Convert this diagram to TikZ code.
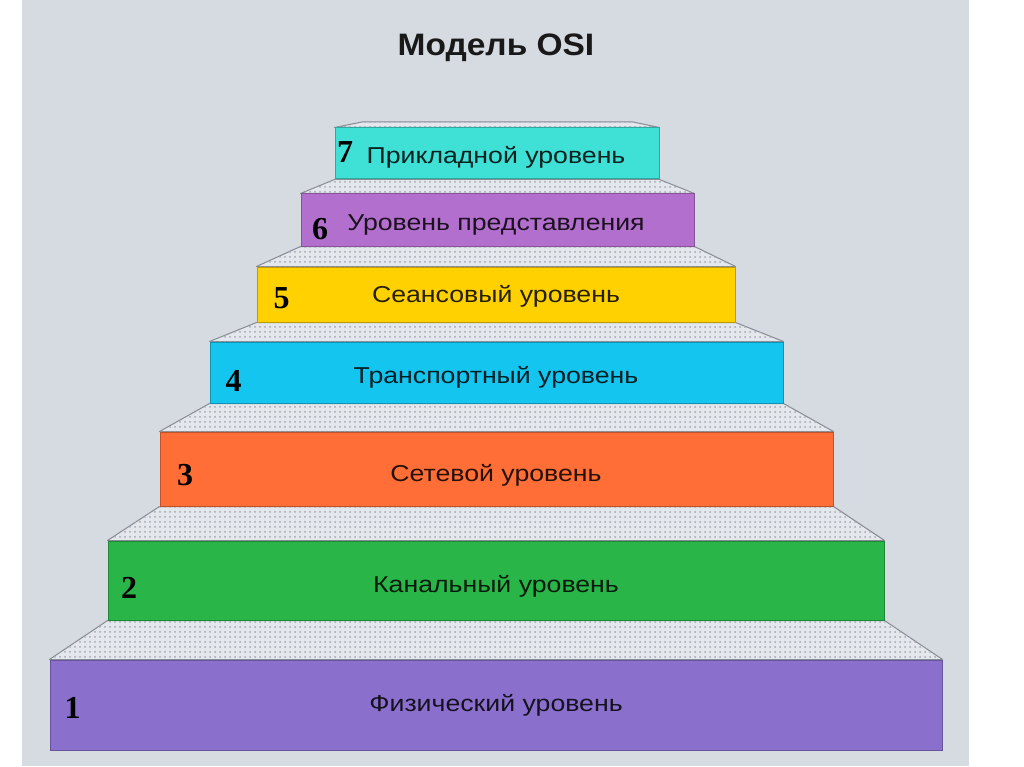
\documentclass[tikz,border=0pt]{standalone}
\usepackage{fontspec}
\setmainfont{Liberation Sans}
\newfontfamily\numfont{Liberation Serif}
\newfontfamily\labelfont{Liberation Sans}[FakeStretch=1.16]
\newfontfamily\titlefont{Liberation Sans}[FakeStretch=1.08]
\usetikzlibrary{patterns.meta,backgrounds}
\definecolor{bgray}{HTML}{D6DAE1}
\definecolor{stepgray}{HTML}{E4E7EC}
\definecolor{dotgray}{HTML}{A4A8B2}
\definecolor{edgegray}{HTML}{868B94}
\definecolor{cSeven}{HTML}{3FE0D6}
\definecolor{cSix}{HTML}{B36FCD}
\definecolor{cFive}{HTML}{FFD100}
\definecolor{cFour}{HTML}{14C6EF}
\definecolor{cThree}{HTML}{FF6E36}
\definecolor{cTwo}{HTML}{29B548}
\definecolor{cOne}{HTML}{8A70CC}
\tikzset{
  layer/.style={draw=#1!75!black, fill=#1, line width=1pt, inner sep=0pt},
  lbl/.style={text=#1!15!black, font=\labelfont\fontsize{23}{26}\selectfont, inner sep=0pt, anchor=base},
  tread/.style={fill=stepgray, draw=edgegray, line width=1pt, line join=round,
    postaction={pattern={Dots[distance=5pt,radius=1pt]}, pattern color=dotgray}},
  num/.style={font=\numfont\bfseries\fontsize{32}{32}\selectfont, text=black, inner sep=0pt},
  title/.style={font=\titlefont\bfseries\fontsize{31}{34}\selectfont, text=black!90}
}
\begin{document}
\begin{tikzpicture}[x=1pt,y=-1pt]
\useasboundingbox (0,0) rectangle (1024,767);
% layers (rectangles)
\node[layer=cSeven, minimum width=324pt, minimum height=51pt] (L7) at (497,153.5) {};
\node[layer=cSix, minimum width=393pt, minimum height=52pt] (L6) at (497.5,220) {};
\node[layer=cFive, minimum width=478pt, minimum height=55pt] (L5) at (496,294.5) {};
\node[layer=cFour, minimum width=573pt, minimum height=61pt] (L4) at (496.5,372.5) {};
\node[layer=cThree, minimum width=673pt, minimum height=74pt] (L3) at (496.5,469) {};
\node[layer=cTwo, minimum width=776pt, minimum height=79pt] (L2) at (496,580.5) {};
\node[layer=cOne, minimum width=892pt, minimum height=90pt] (L1) at (496,705) {};
% labels
\node[lbl=cSeven] (t7) at (496,163.5) {Прикладной уровень};
\node[lbl=cSix] (t6) at (496,231) {Уровень представления};
\node[lbl=cFive] (t5) at (496,302.5) {Сеансовый уровень};
\node[lbl=cFour] (t4) at (496,383) {Транспортный уровень};
\node[lbl=cThree] (t3) at (496,481) {Сетевой уровень};
\node[lbl=cTwo] (t2) at (496,592) {Канальный уровень};
\node[lbl=cOne] (t1) at (496,711) {Физический уровень};
% numbers
\node[num] (n7) at (345,152.5) {7};
\node[num] (n6) at (320,229) {6};
\node[num] (n5) at (281.5,298) {5};
\node[num] (n4) at (233.5,381) {4};
\node[num] (n3) at (185,475) {3};
\node[num] (n2) at (129,587.5) {2};
\node[num] (n1) at (72.5,708) {1};
% title
\node[title] (title) at (496,48) {Модель OSI};
\coordinate (T7l) at (362,122);
\coordinate (T7r) at (633,122);
\begin{scope}[on background layer]
  \fill[white] (0,0) rectangle (1024,767);
  \fill[bgray] (22,0) rectangle (969,766);
  \draw[tread] (L1.north west) -- (L2.south west) -- (L2.south east) -- (L1.north east) -- cycle;
  \draw[tread] (L2.north west) -- (L3.south west) -- (L3.south east) -- (L2.north east) -- cycle;
  \draw[tread] (L3.north west) -- (L4.south west) -- (L4.south east) -- (L3.north east) -- cycle;
  \draw[tread] (L4.north west) -- (L5.south west) -- (L5.south east) -- (L4.north east) -- cycle;
  \draw[tread] (L5.north west) -- (L6.south west) -- (L6.south east) -- (L5.north east) -- cycle;
  \draw[tread] (L6.north west) -- (L7.south west) -- (L7.south east) -- (L6.north east) -- cycle;
  \draw[tread] (L7.north west) -- (T7l) -- (T7r) -- (L7.north east) -- cycle;
\end{scope}
\end{tikzpicture}
\end{document}
